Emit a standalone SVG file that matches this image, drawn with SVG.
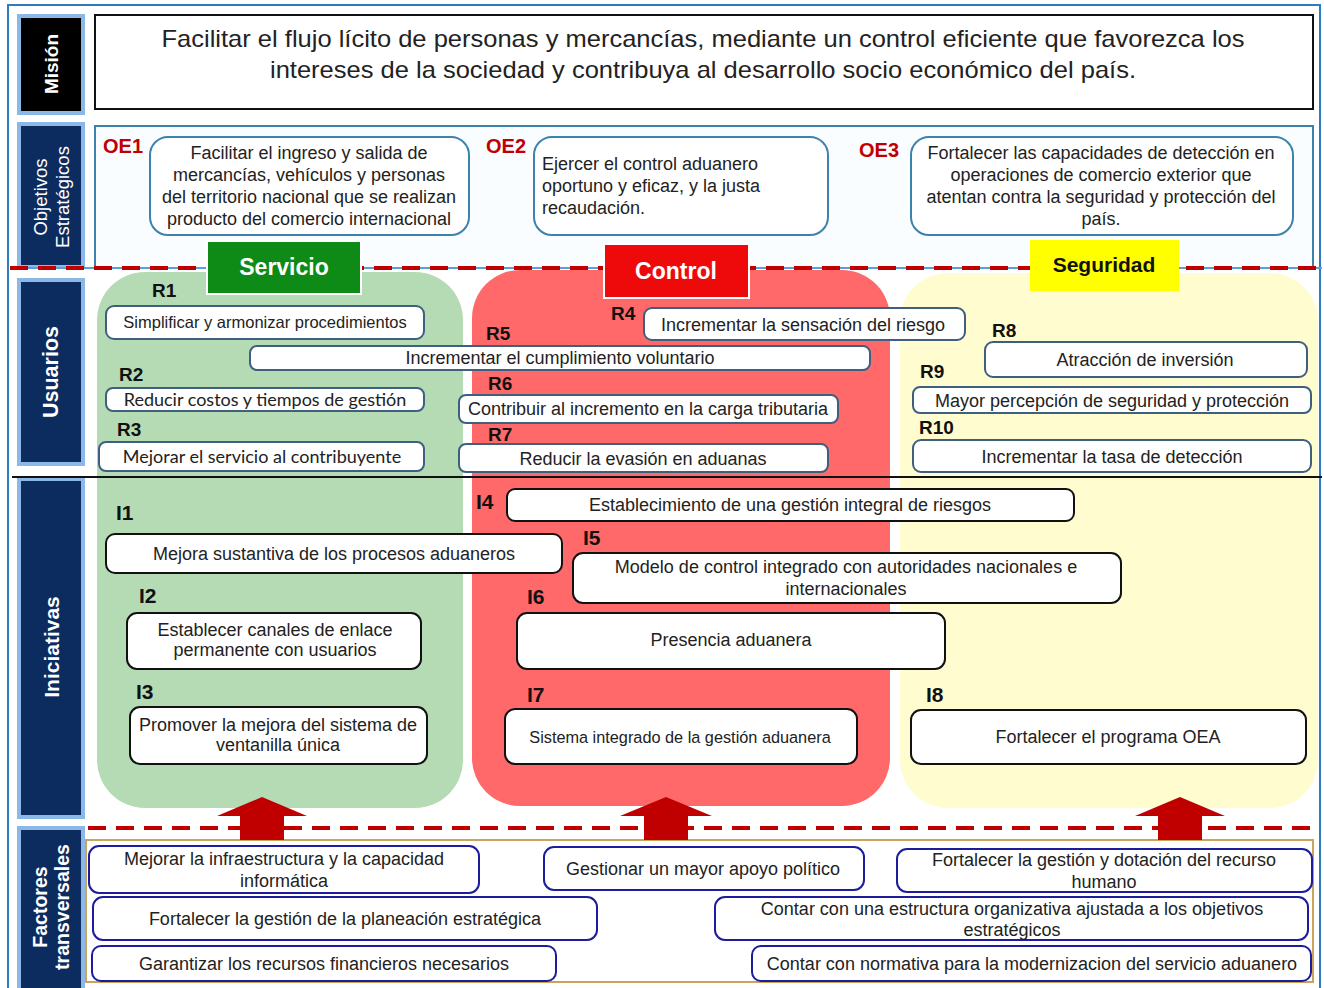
<svg xmlns="http://www.w3.org/2000/svg" width="1324" height="988" viewBox="0 0 1324 988">
<style>
text{font-family:"Liberation Sans",Arial,sans-serif;fill:#222}
.side{fill:#0c2b5e;stroke:#8cb8e8;stroke-width:4}
.sidet{fill:#fff;font-weight:bold;font-size:19px;text-anchor:middle;dominant-baseline:central}
.oe{fill:#fff;stroke:#3d82ab;stroke-width:2}
.oel{fill:#c00000;font-weight:bold;font-size:20px}
.t16{font-size:18px}
.c{text-anchor:middle}
.rb{fill:#fff;stroke:#3f5f7f;stroke-width:2}
.rl{font-weight:bold;font-size:19px;fill:#111}
.cal{font-family:Lato,"Open Sans",sans-serif;font-size:18px}
.ib{fill:#fff;stroke:#111;stroke-width:2}
.il{font-family:"Liberation Sans Narrow","Liberation Sans",sans-serif;font-weight:bold;font-size:21px;fill:#111}
.fb{fill:#fff;stroke:#1c1c9c;stroke-width:2}
.dash{stroke:#c00000;stroke-width:4;stroke-dasharray:18 10;fill:none}
.arr{fill:#c00000}
</style>
<rect x="0" y="0" width="1324" height="988" fill="#fff"/>
<rect x="8" y="5" width="1312" height="990" fill="none" stroke="#2e7cc0" stroke-width="2"/>

<!-- side labels -->
<g id="lbl-mision"><rect class="side" x="19" y="16" width="64" height="97" style="fill:#000"/><text class="sidet" transform="translate(51,64) rotate(-90)">Misión</text></g>
<g id="lbl-objetivos"><rect class="side" x="19" y="124" width="64" height="143"/><text class="sidet" style="font-weight:normal;font-size:18.5px" transform="translate(51,197) rotate(-90)"><tspan x="0" y="-11">Objetivos</tspan><tspan x="0" y="11">Estratégicos</tspan></text></g>
<g id="lbl-usuarios"><rect class="side" x="19" y="280" width="64" height="184"/><text class="sidet" style="font-size:21.5px" transform="translate(51,372) rotate(-90)">Usuarios</text></g>
<g id="lbl-iniciativas"><rect class="side" x="19" y="479" width="64" height="338"/><text class="sidet" style="font-size:21px" transform="translate(51,647) rotate(-90)">Iniciativas</text></g>
<g id="lbl-factores"><rect class="side" x="19" y="828" width="64" height="165"/><text class="sidet" style="font-size:19.5px" transform="translate(51,907) rotate(-90)"><tspan x="0" y="-11">Factores</tspan><tspan x="0" y="11">transversales</tspan></text></g>

<!-- mission -->
<g id="mision"><rect x="95" y="15" width="1218" height="94" fill="#fff" stroke="#111" stroke-width="2"/>
<text class="c" x="703" y="47" font-size="24" textLength="1083" lengthAdjust="spacingAndGlyphs">Facilitar el flujo lícito de personas y mercancías, mediante un control eficiente que favorezca los</text>
<text class="c" x="703" y="78" font-size="24" textLength="866" lengthAdjust="spacingAndGlyphs">intereses de la sociedad y contribuya al desarrollo socio económico del país.</text></g>

<!-- OE panel -->
<rect x="95" y="126" width="1218" height="142" fill="#fafdff" stroke="#3d82ab" stroke-width="2"/>

<!-- columns -->
<rect x="97" y="272" width="366" height="536" rx="48" fill="#b5dbb5"/>
<rect x="472" y="270" width="418" height="536" rx="48" fill="#ff6969"/>
<rect x="900" y="273" width="418" height="535" rx="48" fill="#fffccf"/>

<!-- separators -->
<line x1="10" y1="268" x2="1322" y2="268" stroke="#5aa0d8" stroke-width="2"/>
<line class="dash" x1="10" y1="268" x2="1322" y2="268"/>
<line x1="12" y1="477" x2="1322" y2="477" stroke="#111" stroke-width="2"/>
<line class="dash" x1="88" y1="828" x2="1310" y2="828"/>

<!-- factors panel -->
<rect x="86" y="840" width="1227" height="142" fill="#fff" stroke="#c9a45c" stroke-width="2"/>

<!-- OE -->
<g id="oe1"><text class="oel" x="103" y="153">OE1</text><rect class="oe" x="150" y="137" width="319" height="98" rx="18"/>
<text class="t16 c" x="309" y="159"><tspan x="309">Facilitar el ingreso y salida de</tspan><tspan x="309" dy="22">mercancías, vehículos y personas</tspan><tspan x="309" dy="22">del territorio nacional que se realizan</tspan><tspan x="309" dy="22">producto del comercio internacional</tspan></text></g>
<g id="oe2"><text class="oel" x="486" y="153">OE2</text><rect class="oe" x="534" y="137" width="294" height="98" rx="18"/>
<text class="t16" x="542" y="170"><tspan x="542">Ejercer el control aduanero</tspan><tspan x="542" dy="22">oportuno y eficaz,  y la justa</tspan><tspan x="542" dy="22">recaudación.</tspan></text></g>
<g id="oe3"><text class="oel" x="859" y="157">OE3</text><rect class="oe" x="911" y="137" width="382" height="98" rx="18"/>
<text class="t16 c" x="1101" y="159"><tspan x="1101">Fortalecer las capacidades de detección en</tspan><tspan x="1101" dy="22">operaciones de comercio exterior que</tspan><tspan x="1101" dy="22">atentan contra la seguridad y protección del</tspan><tspan x="1101" dy="22">país.</tspan></text></g>

<!-- pillar headers -->
<g id="servicio"><rect x="207" y="241" width="154" height="53" fill="#0e8a17" stroke="#fff" stroke-width="2"/><text x="284" y="275" class="c" style="fill:#fff;font-weight:bold;font-size:23px">Servicio</text></g>
<g id="control"><rect x="604" y="244" width="145" height="54" fill="#ee0a0a" stroke="#fff" stroke-width="2"/><text x="676" y="279" class="c" style="fill:#fff;font-weight:bold;font-size:23px">Control</text></g>
<g id="seguridad"><rect x="1030" y="240" width="149" height="51" fill="#ffff00"/><text x="1104" y="272" class="c" style="fill:#111;font-weight:bold;font-size:21px">Seguridad</text></g>

<!-- results -->
<g id="r1"><text class="rl" x="152" y="297">R1</text><rect class="rb" x="106" y="306" width="318" height="33" rx="8"/><text class="c" x="265" y="328" style="font-size:16.5px">Simplificar y armonizar procedimientos</text></g>
<g id="r5"><text class="rl" x="486" y="340">R5</text><rect class="rb" x="250" y="346" width="620" height="24" rx="7"/><text class="t16 c" x="560" y="364">Incrementar el cumplimiento voluntario</text></g>
<g id="r2"><text class="rl" x="119" y="381">R2</text><rect class="rb" x="106" y="388" width="318" height="23" rx="7"/><text class="cal c" x="265" y="406">Reducir costos y tiempos de gestión</text></g>
<g id="r3"><text class="rl" x="117" y="436">R3</text><rect class="rb" x="99" y="442" width="325" height="29" rx="7"/><text class="cal c" x="262" y="463">Mejorar el servicio al contribuyente</text></g>
<g id="r4"><text class="rl" x="611" y="320">R4</text><rect class="rb" x="644" y="308" width="321" height="32" rx="8"/><text class="t16 c" x="803" y="331">Incrementar la sensación del riesgo</text></g>
<g id="r6"><text class="rl" x="488" y="390">R6</text><rect class="rb" x="459" y="395" width="379" height="28" rx="7"/><text class="t16 c" x="648" y="415">Contribuir al incremento en la carga tributaria</text></g>
<g id="r7"><text class="rl" x="488" y="441">R7</text><rect class="rb" x="459" y="444" width="369" height="28" rx="7"/><text class="t16 c" x="643" y="465">Reducir la evasión en aduanas</text></g>
<g id="r8"><text class="rl" x="992" y="337">R8</text><rect class="rb" x="985" y="342" width="322" height="35" rx="8"/><text class="t16 c" x="1145" y="366">Atracción de inversión</text></g>
<g id="r9"><text class="rl" x="920" y="378">R9</text><rect class="rb" x="913" y="387" width="398" height="26" rx="7"/><text class="t16 c" x="1112" y="407">Mayor percepción de seguridad y protección</text></g>
<g id="r10"><text class="rl" x="919" y="434">R10</text><rect class="rb" x="913" y="440" width="398" height="32" rx="8"/><text class="t16 c" x="1112" y="463">Incrementar la tasa de detección</text></g>

<!-- initiatives -->
<g id="i1"><text class="il" x="116" y="520">I1</text><rect class="ib" x="106" y="534" width="456" height="39" rx="9"/><text class="t16 c" x="334" y="560">Mejora sustantiva  de los procesos aduaneros</text></g>
<g id="i2"><text class="il" x="139" y="603">I2</text><rect class="ib" x="127" y="613" width="294" height="56" rx="10"/><text class="t16 c" x="275" y="636"><tspan x="275">Establecer canales de enlace</tspan><tspan x="275" dy="20">permanente  con usuarios</tspan></text></g>
<g id="i3"><text class="il" x="136" y="699">I3</text><rect class="ib" x="130" y="707" width="297" height="57" rx="10"/><text class="t16 c" x="278" y="731"><tspan x="278">Promover  la mejora  del sistema  de</tspan><tspan x="278" dy="20">ventanilla  única</tspan></text></g>
<g id="i4"><text class="il" x="476" y="509">I4</text><rect class="ib" x="507" y="489" width="567" height="32" rx="8"/><text class="t16 c" x="790" y="511">Establecimiento  de una  gestión  integral  de riesgos</text></g>
<g id="i5"><text class="il" x="583" y="545">I5</text><rect class="ib" x="573" y="553" width="548" height="50" rx="10"/><text class="t16 c" x="846" y="573"><tspan x="846">Modelo  de control integrado  con autoridades  nacionales  e</tspan><tspan x="846" dy="22">internacionales</tspan></text></g>
<g id="i6"><text class="il" x="527" y="604">I6</text><rect class="ib" x="517" y="613" width="428" height="56" rx="10"/><text class="t16 c" x="731" y="646">Presencia aduanera</text></g>
<g id="i7"><text class="il" x="527" y="702">I7</text><rect class="ib" x="505" y="709" width="352" height="55" rx="10"/><text class="c" x="680" y="743" font-size="16.3">Sistema integrado  de la gestión aduanera</text></g>
<g id="i8"><text class="il" x="926" y="702">I8</text><rect class="ib" x="911" y="710" width="395" height="54" rx="10"/><text class="t16 c" x="1108" y="743">Fortalecer el programa OEA</text></g>

<!-- transversal factors -->
<g id="f1"><rect class="fb" x="89" y="846" width="390" height="47" rx="10"/><text class="t16 c" x="284" y="865"><tspan x="284">Mejorar la infraestructura y la capacidad</tspan><tspan x="284" dy="22">informática</tspan></text></g>
<g id="f2"><rect class="fb" x="544" y="847" width="320" height="43" rx="10"/><text class="t16 c" x="703" y="875">Gestionar un mayor apoyo político</text></g>
<g id="f3"><rect class="fb" x="897" y="849" width="415" height="43" rx="10"/><text class="t16 c" x="1104" y="866"><tspan x="1104">Fortalecer la gestión y dotación del recurso</tspan><tspan x="1104" dy="22">humano</tspan></text></g>
<g id="f4"><rect class="fb" x="93" y="897" width="504" height="43" rx="10"/><text class="t16 c" x="345" y="925">Fortalecer la gestión de la planeación estratégica</text></g>
<g id="f5"><rect class="fb" x="715" y="897" width="593" height="43" rx="10"/><text class="t16 c" x="1012" y="915"><tspan x="1012">Contar con una estructura organizativa ajustada a los objetivos</tspan><tspan x="1012" dy="21">estratégicos</tspan></text></g>
<g id="f6"><rect class="fb" x="92" y="946" width="464" height="35" rx="9"/><text class="t16 c" x="324" y="970">Garantizar los recursos financieros necesarios</text></g>
<g id="f7"><rect class="fb" x="752" y="946" width="559" height="35" rx="9"/><text class="t16 c" x="1032" y="970">Contar con normativa para la modernizacion del servicio aduanero</text></g>

<!-- connectors: upward arrows -->
<g id="connectors">
<polygon class="arr" points="262,797 307,816 284,816 284,840 240,840 240,816 217,816"/>
<polygon class="arr" points="666,797 712,816 688,816 688,840 644,840 644,816 620,816"/>
<polygon class="arr" points="1180,797 1225,816 1202,816 1202,840 1158,840 1158,816 1135,816"/>
</g>
</svg>
